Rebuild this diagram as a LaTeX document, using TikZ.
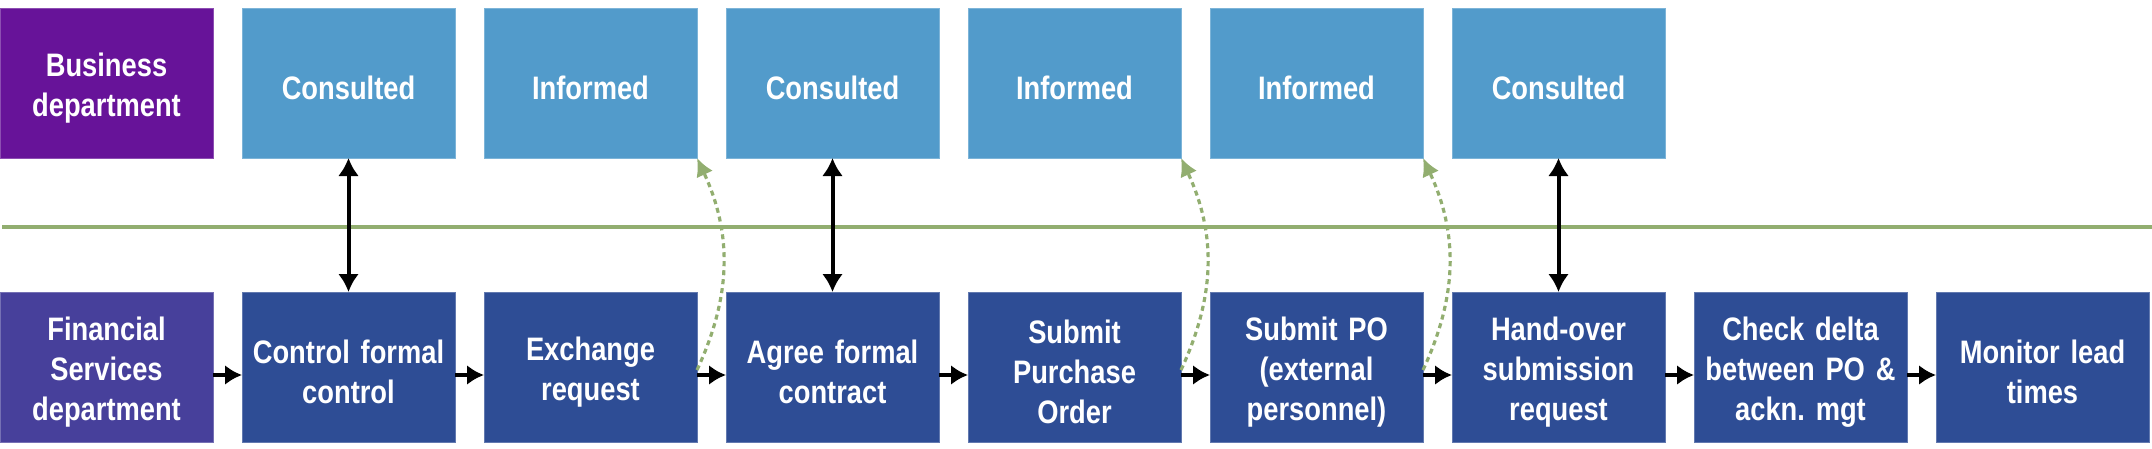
\documentclass[tikz,border=0pt]{standalone}
\usepackage{fontspec}
\setmainfont{Liberation Sans}[FakeStretch=0.84]
\usepackage{tikz}
\usetikzlibrary{shapes,arrows.meta,positioning}
\definecolor{purp}{RGB}{103,19,153}
\definecolor{finc}{RGB}{71,64,155}
\definecolor{lblue}{RGB}{82,155,203}
\definecolor{dblue}{RGB}{46,77,149}
\definecolor{sage}{RGB}{146,174,112}
\tikzstyle{box} = [rectangle, minimum width=213pt, minimum height=150pt, inner sep=0pt, outer sep=0pt, line width=1pt, text=white, text width=205pt, align=center, font=\fontsize{32.5}{40}\selectfont\bfseries\frenchspacing, execute at begin node={\rule{0pt}{33pt}}]
\tikzstyle{dept} = [box, fill=purp, draw=purp!75!white]
\tikzstyle{fin} = [box, fill=finc, draw=finc!75!white]
\tikzstyle{raci} = [box, fill=lblue, draw=lblue!75!white]
\tikzstyle{task} = [box, fill=dblue, draw=dblue!75!white]
\tikzstyle{tedge} = [draw, line width=4.5pt, -{Latex[length=17pt,width=20pt]}]
\tikzstyle{bedge} = [draw, line width=4pt, {Latex[length=18pt,width=21pt]}-{Latex[length=18pt,width=21pt]}]
\tikzstyle{iedge} = [draw=sage, line width=3.2pt, dash pattern=on 5pt off 4pt, -{Latex[length=18pt,width=18pt,fill=sage]}]
\tikzstyle{lane} = [draw=sage, line width=4pt]

\begin{document}
\begin{tikzpicture}[x=1pt, y=1pt]
\useasboundingbox (0,0) rectangle (2152,-448);

% top row =============================
\node[dept, anchor=north west] (bus) at (0,-8) {Business\\department};
\node[raci, right=29pt of bus] (cons1) {Consulted};
\node[raci, right=29pt of cons1] (inf1) {Informed};
\node[raci, right=29pt of inf1] (cons2) {Consulted};
\node[raci, right=29pt of cons2] (inf2) {Informed};
\node[raci, right=29pt of inf2] (inf3) {Informed};
\node[raci, right=29pt of inf3] (cons3) {Consulted};

% lane separator
\coordinate (laneL) at (2,-227);
\coordinate (laneR) at (2152,-227);
\path[lane] (laneL) -- (laneR);

% bottom row ==========================
\node[fin, below=134pt of bus] (fsd) {Financial\\Services\\department};
\node[task, right=29pt of fsd] (ctrl) {Control formal\\control};
\node[task, right=29pt of ctrl] (exch) {Exchange\\request};
\node[task, right=29pt of exch] (agree) {Agree formal\\contract};
\node[task, right=29pt of agree] (subpo) {Submit\\Purchase\\Order};
\node[task, right=29pt of subpo] (subext) {Submit PO\\(external\\personnel)};
\node[task, right=29pt of subext] (hand) {Hand-over\\submission\\request};
\node[task, right=29pt of hand] (delta) {Check delta\\between PO \&\\ackn. mgt};
\node[task, right=29pt of delta] (lead) {Monitor lead\\times};

%edges
\path[tedge] ([yshift=-8pt]fsd.east) -- ([yshift=-8pt]ctrl.west);
\path[tedge] ([yshift=-8pt]ctrl.east) -- ([yshift=-8pt]exch.west);
\path[tedge] ([yshift=-8pt]exch.east) -- ([yshift=-8pt]agree.west);
\path[tedge] ([yshift=-8pt]agree.east) -- ([yshift=-8pt]subpo.west);
\path[tedge] ([yshift=-8pt]subpo.east) -- ([yshift=-8pt]subext.west);
\path[tedge] ([yshift=-8pt]subext.east) -- ([yshift=-8pt]hand.west);
\path[tedge] ([yshift=-8pt]hand.east) -- ([yshift=-8pt]delta.west);
\path[tedge] ([yshift=-8pt]delta.east) -- ([yshift=-8pt]lead.west);

\path[bedge] (cons1) -- (ctrl);
\path[bedge] (cons2) -- (agree);
\path[bedge] (cons3) -- (hand);

\path[iedge] ([yshift=-3pt]exch.east) to[bend right=25] (inf1.south east);
\path[iedge] ([yshift=-3pt]subpo.east) to[bend right=25] (inf2.south east);
\path[iedge] ([yshift=-3pt]subext.east) to[bend right=25] (inf3.south east);

\end{tikzpicture}
\end{document}
